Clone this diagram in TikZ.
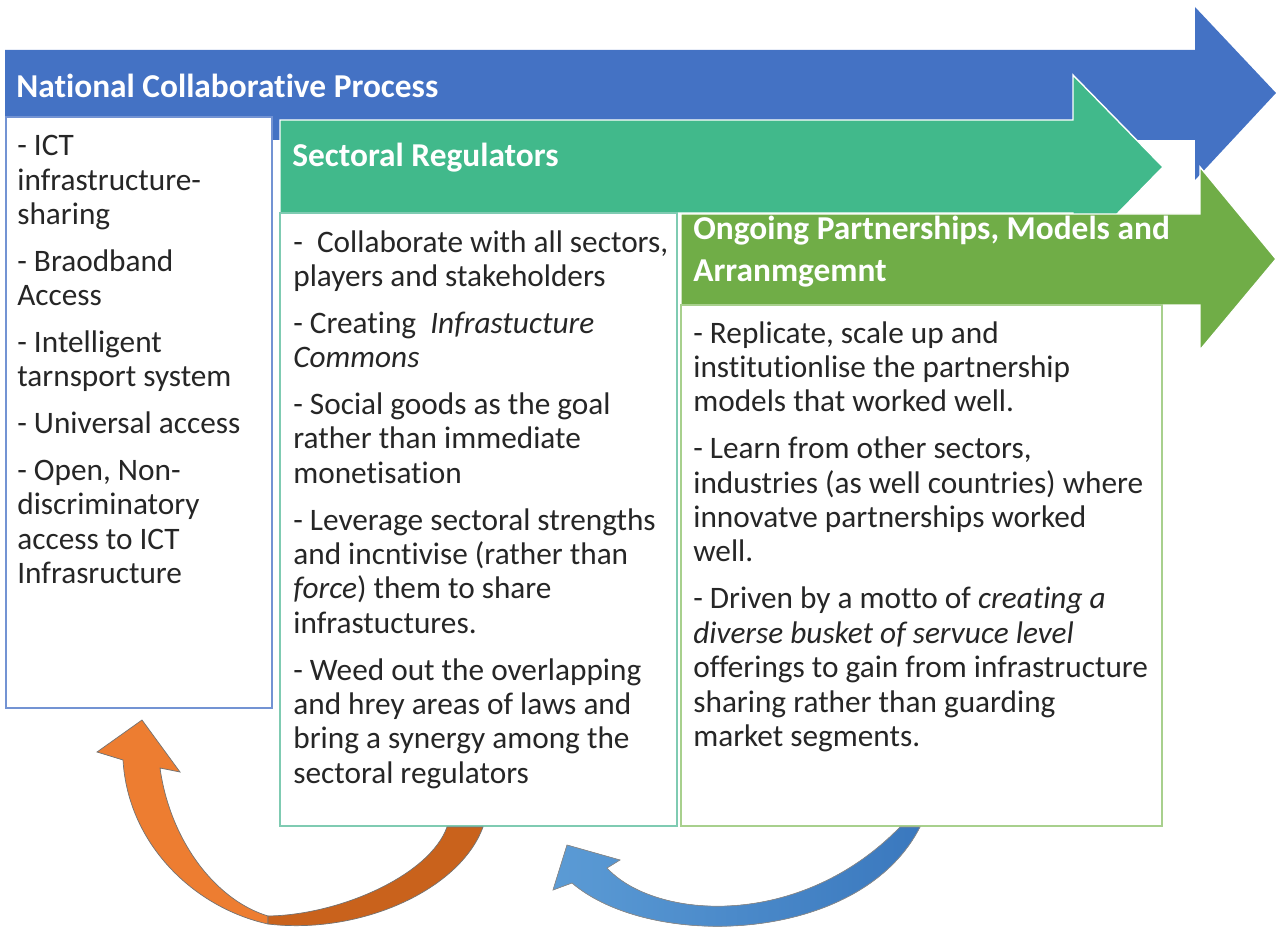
\documentclass[tikz,border=0pt]{standalone}
\usepackage{fontspec}
\setmainfont{Carlito}[Ligatures={TeX,NoCommon}]
\usetikzlibrary{positioning}

\definecolor{ncpblue}{HTML}{4472C4}
\definecolor{secteal}{HTML}{41B98B}
\definecolor{opgreen}{HTML}{70AD47}
\definecolor{ncpline}{HTML}{7393D3}
\definecolor{secline}{HTML}{7FCBB2}
\definecolor{opline}{HTML}{A8D08D}
\definecolor{looporange}{HTML}{ED7D31}
\definecolor{loopdark}{HTML}{C9621C}
\definecolor{loopblue}{HTML}{5B9BD5}
\definecolor{loopbluedk}{HTML}{3A78BE}
\definecolor{bodygray}{HTML}{262626}

\begin{document}
\begin{tikzpicture}[x=0.02cm,y=-0.02cm,
	bodytext/.style={anchor=north west, inner sep=0pt, align=left, text=bodygray, font=\fontsize{17.8}{19.6}\selectfont},
	headtext/.style={inner sep=0pt, text=white, font=\fontsize{19}{23.8}\selectfont\bfseries},
	boxline/.style={line width=1.2pt, fill=white}]
	\useasboundingbox (0,0) rectangle (1276,929);
	
	% block arrows and their boxes
	\fill[ncpblue] (5,50) -- (1195,50) -- (1195,7) -- (1276,93) -- (1195,180) -- (1195,140) -- (5,140) -- cycle;
	\draw[boxline, draw=ncpline] (6,117) rectangle (272,708);
	\fill[secteal, draw=white, line width=0.8pt] (280,120) -- (1073,120) -- (1073,75) -- (1163,167) -- (1073,259) -- (1073,213) -- (280,213) -- cycle;
	\draw[boxline, draw=secline] (280,213) rectangle (677,826);
	\fill[opgreen, draw=white, line width=0.8pt] (681,214) -- (1200,214) -- (1200,167) -- (1276,259) -- (1200,350) -- (1200,305) -- (681,305) -- cycle;
	\draw[boxline, draw=opline] (681,305) rectangle (1162,826);
	
	% feedback loops
	\filldraw[fill=looporange, draw=black!55, line width=0.4pt] (123,760) .. controls (128,845) and (195,908) .. (268,924)
		-- (268,916) .. controls (215,900) and (170,840) .. (160,768) -- (180,772) -- (142,720) -- (97,752) -- cycle;
	\filldraw[fill=loopdark, draw=black!55, line width=0.4pt] (268,924) .. controls (360,935) and (460,890) .. (483,827)
		-- (447,827) .. controls (430,875) and (340,915) .. (268,916) -- cycle;
	\filldraw[left color=loopblue, right color=loopbluedk, draw=black!45, line width=0.4pt] (567,845) -- (620,860) -- (607,868)
		.. controls (655,920) and (800,930) .. (900,827) -- (920,827)
		.. controls (860,945) and (650,950) .. (572,883) -- (553,890) -- cycle;
	
	% titles
	\node[headtext, anchor=west] (ncptitle) at (16,86) {National Collaborative Process};
	\node[headtext, anchor=base west] (sectitle) at (292,167) {Sectoral Regulators};
	\node[headtext, anchor=north west, align=left] (optitle) at (693,216) {Ongoing Partnerships, Models and\\Arranmgemnt};
	
	% box texts
	\node[bodytext] (ncptext) at (17,135) {- ICT\\infrastructure-\\sharing\\[7pt]
		- Braodband\\Access\\[7pt]
		- Intelligent\\tarnsport system\\[7pt]
		- Universal access\\[7pt]
		- Open, Non-\\discriminatory\\access to ICT\\Infrasructure};
	\node[bodytext] (sectext) at (293,230) {-\ \ Collaborate with all sectors,\\players and stakeholders\\[7pt]
		- Creating\ \ \textit{Infrastucture}\\\textit{Commons}\\[7pt]
		- Social goods as the goal\\rather than immediate\\monetisation\\[7pt]
		- Leverage sectoral strengths\\and incntivise (rather than\\\textit{force}) them to share\\infrastuctures.\\[7pt]
		- Weed out the overlapping\\and hrey areas of laws and\\bring a synergy among the\\sectoral regulators};
	\node[bodytext] (optext) at (693,321) {- Replicate, scale up and\\institutionlise the partnership\\models that worked well.\\[7pt]
		- Learn from other sectors,\\industries (as well countries) where\\innovatve partnerships worked\\well.\\[7pt]
		- Driven by a motto of \textit{creating a}\\\textit{diverse busket of servuce level}\\offerings to gain from infrastructure\\sharing rather than guarding\\market segments.};
\end{tikzpicture}
\end{document}
